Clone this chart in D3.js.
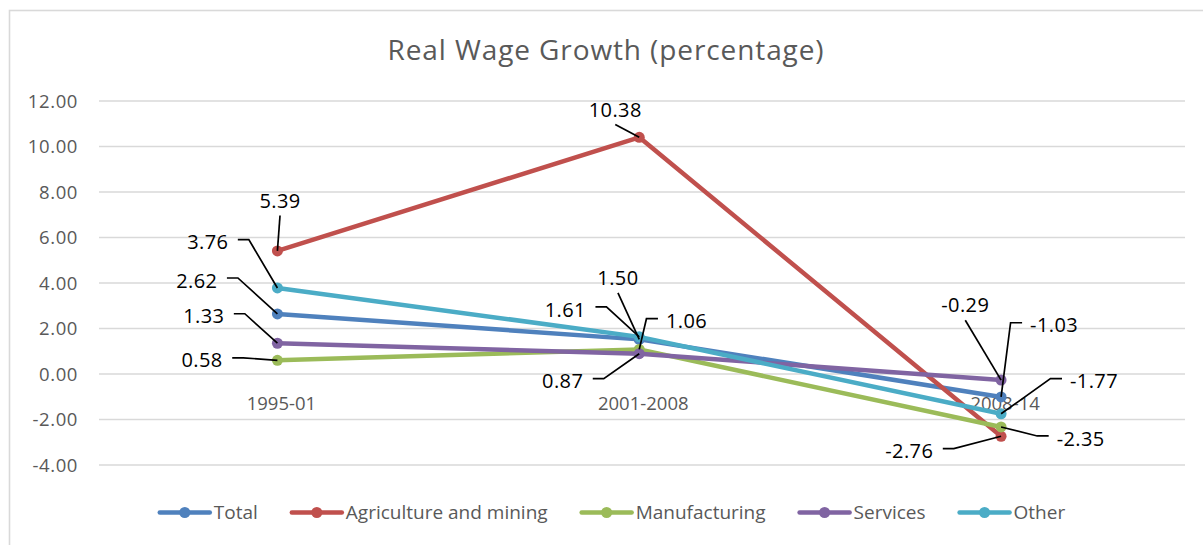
<!DOCTYPE html>
<html>
<head>
<meta charset="utf-8">
<script src="https://cdn.jsdelivr.net/npm/d3@7"></script>
<style>
  html, body { margin: 0; padding: 0; background: #fff; }
  svg { display: block; }
</style>
</head>
<body>
<svg id="chart" width="1203" height="545"></svg>
<script>
// ---- data ----
const categories = ["1995-01", "2001-2008", "2008-14"];
const seriesNames = ["Total", "Agriculture and mining", "Manufacturing", "Services", "Other"];
const total         = [2.62, 1.50, -1.03];
const agriculture   = [5.39, 10.38, -2.76];
const manufacturing = [0.58, 1.06, -2.35];
const services      = [1.33, 0.87, -0.29];
const other         = [3.76, 1.61, -1.77];
const yTicks = [-4, -2, 0, 2, 4, 6, 8, 10, 12];
const titleText = "Real Wage Growth (percentage)";

// ---- styling / layout ----
const colors = ["#4F81BD", "#C0504D", "#9BBB59", "#8064A2", "#4BACC6"];
const FONT = "'Open Sans', 'DejaVu Sans', sans-serif";
const GREY = "#595959";
const GRID = "#D9D9D9";

// data label placement: [dx, dy, side] of the label text relative to its point
// side: "top" = label above, leader straight down; "left"/"right" = label beside, elbow leader
const labelPlacement = [
  [[-60, -33.4, "left"], [-21.3, -61.6, "top"], [29, -71.7, "right"]],
  [[2.6, -50.4, "top"], [-24, -27.9, "top"], [-67.8, 14.9, "left"]],
  [[-54.7, 0, "left"], [26.7, -28.2, "right"], [55.6, 11.5, "right"]],
  [[-53.1, -27, "left"], [-56, 27.5, "left"], [-35.8, -74.9, "top"]],
  [[-49.1, -45.8, "left"], [-53.3, -27.4, "left"], [68.9, -32.6, "right"]]
];

const seriesValues = [total, agriculture, manufacturing, services, other];
const series = seriesNames.map((name, i) => ({
  name, color: colors[i],
  points: categories.map((c, j) => ({ cat: c, value: seriesValues[i][j], place: labelPlacement[i][j] }))
}));

// number format with a plain hyphen for negatives
const locale = d3.formatLocale({ decimal: ".", thousands: ",", grouping: [3], currency: ["", ""], minus: "-" });
const fmt = locale.format(".2f");

const svg = d3.select("#chart");

// outer chart frame
svg.append("rect")
  .attr("x", 9.5).attr("y", 10.5)
  .attr("width", 1300).attr("height", 600)
  .attr("fill", "#fff")
  .attr("stroke", GRID).attr("stroke-width", 1.6);

// scales
const x = d3.scaleBand().domain(categories).range([96.5, 1182]);
const cx = c => x(c) + x.bandwidth() / 2;
const y = d3.scaleLinear().domain([-4, 12]).range([464.5, 100.5]);
const gridLeft = 99, gridRight = 1185;

// title
svg.append("text")
  .attr("x", 606).attr("y", 60)
  .attr("text-anchor", "middle")
  .attr("font-family", FONT).attr("font-size", 28)
  .attr("letter-spacing", 0.9)
  .attr("fill", GREY)
  .text(titleText);

// gridlines
const grid = svg.append("g")
  .attr("transform", `translate(${gridLeft},0)`)
  .call(d3.axisLeft(y).tickValues(yTicks).tickSize(-(gridRight - gridLeft)).tickFormat(""));
grid.select(".domain").remove();
grid.selectAll(".tick line").attr("stroke", GRID).attr("stroke-width", 1.6);

// y tick labels
const yAxis = svg.append("g")
  .attr("transform", `translate(${gridLeft},0)`)
  .call(d3.axisLeft(y).tickValues(yTicks).tickSize(0).tickPadding(21).tickFormat(fmt));
yAxis.select(".domain").remove();
yAxis.selectAll("text")
  .attr("font-family", FONT).attr("font-size", 18.5)
  .attr("letter-spacing", 0.6)
  .attr("fill", GREY).attr("dy", "0.36em");

// category labels next to the zero line
const xAxis = svg.append("g")
  .attr("transform", `translate(0,${y(0)})`)
  .call(d3.axisBottom(x).tickSize(0));
xAxis.select(".domain").remove();
xAxis.selectAll("text")
  .attr("font-family", FONT).attr("font-size", 18.5)
  .attr("fill", GREY)
  .attr("x", 4).attr("y", 36).attr("dy", 0);

// series lines
const line = d3.line().x(d => cx(d.cat)).y(d => y(d.value));
const sg = svg.append("g");
series.forEach(s => {
  sg.append("path")
    .datum(s.points)
    .attr("d", line)
    .attr("fill", "none")
    .attr("stroke", s.color)
    .attr("stroke-width", 4.5)
    .attr("stroke-linejoin", "round")
    .attr("stroke-linecap", "round");
  sg.selectAll(null)
    .data(s.points)
    .enter().append("circle")
    .attr("cx", d => cx(d.cat))
    .attr("cy", d => y(d.value))
    .attr("r", 5.5)
    .attr("fill", s.color);
});

// data labels with leader lines
const LFS = 20;
const lg = svg.append("g");
series.forEach(s => {
  s.points.forEach(d => {
    const px = cx(d.cat), py = y(d.value);
    const [dx, dy, side] = d.place;
    lg.append("text")
      .attr("font-family", FONT).attr("font-size", LFS)
      .attr("letter-spacing", 0.4)
      .attr("fill", "#000")
      .attr("x", px + dx)
      .attr("y", py + dy + 0.357 * LFS)
      .attr("text-anchor", side === "left" ? "end" : side === "right" ? "start" : "middle")
      .text(fmt(d.value));
    let pts;
    if (side === "top") {
      pts = [[px + dx, py + dy + 15], [px, py]];
    } else if (side === "left") {
      const sx = px + dx + 9.5, ly = py + dy - 2.5;
      pts = [[sx, ly], [sx + 11, ly], [px, py]];
    } else {
      const sx = px + dx - 8, ly = py + dy - 2.5;
      pts = [[sx, ly], [sx - 11.5, ly], [px, py]];
    }
    lg.append("path")
      .attr("d", d3.line()(pts))
      .attr("fill", "none")
      .attr("stroke", "#000")
      .attr("stroke-width", 1.7);
  });
});

// legend
const legY = 512.5;
const LEG_FS = 19;
const leg = svg.append("g");
const items = series.map(s => {
  const g = leg.append("g");
  g.append("line")
    .attr("x1", 0).attr("x2", 50)
    .attr("y1", legY).attr("y2", legY)
    .attr("stroke", s.color).attr("stroke-width", 4.5)
    .attr("stroke-linecap", "round");
  g.append("circle").attr("cx", 25).attr("cy", legY).attr("r", 5.5).attr("fill", s.color);
  const t = g.append("text")
    .attr("x", 54).attr("y", legY + 0.357 * LEG_FS)
    .attr("font-family", FONT).attr("font-size", LEG_FS)
    .attr("fill", GREY)
    .text(s.name);
  return { g, w: 54 + t.node().getComputedTextLength() };
});
const gap = 34;
const totalW = d3.sum(items, d => d.w) + gap * (items.length - 1);
let lx = 612.5 - totalW / 2;
items.forEach(it => {
  it.g.attr("transform", `translate(${lx},0)`);
  lx += it.w + gap;
});
</script>
</body>
</html>
